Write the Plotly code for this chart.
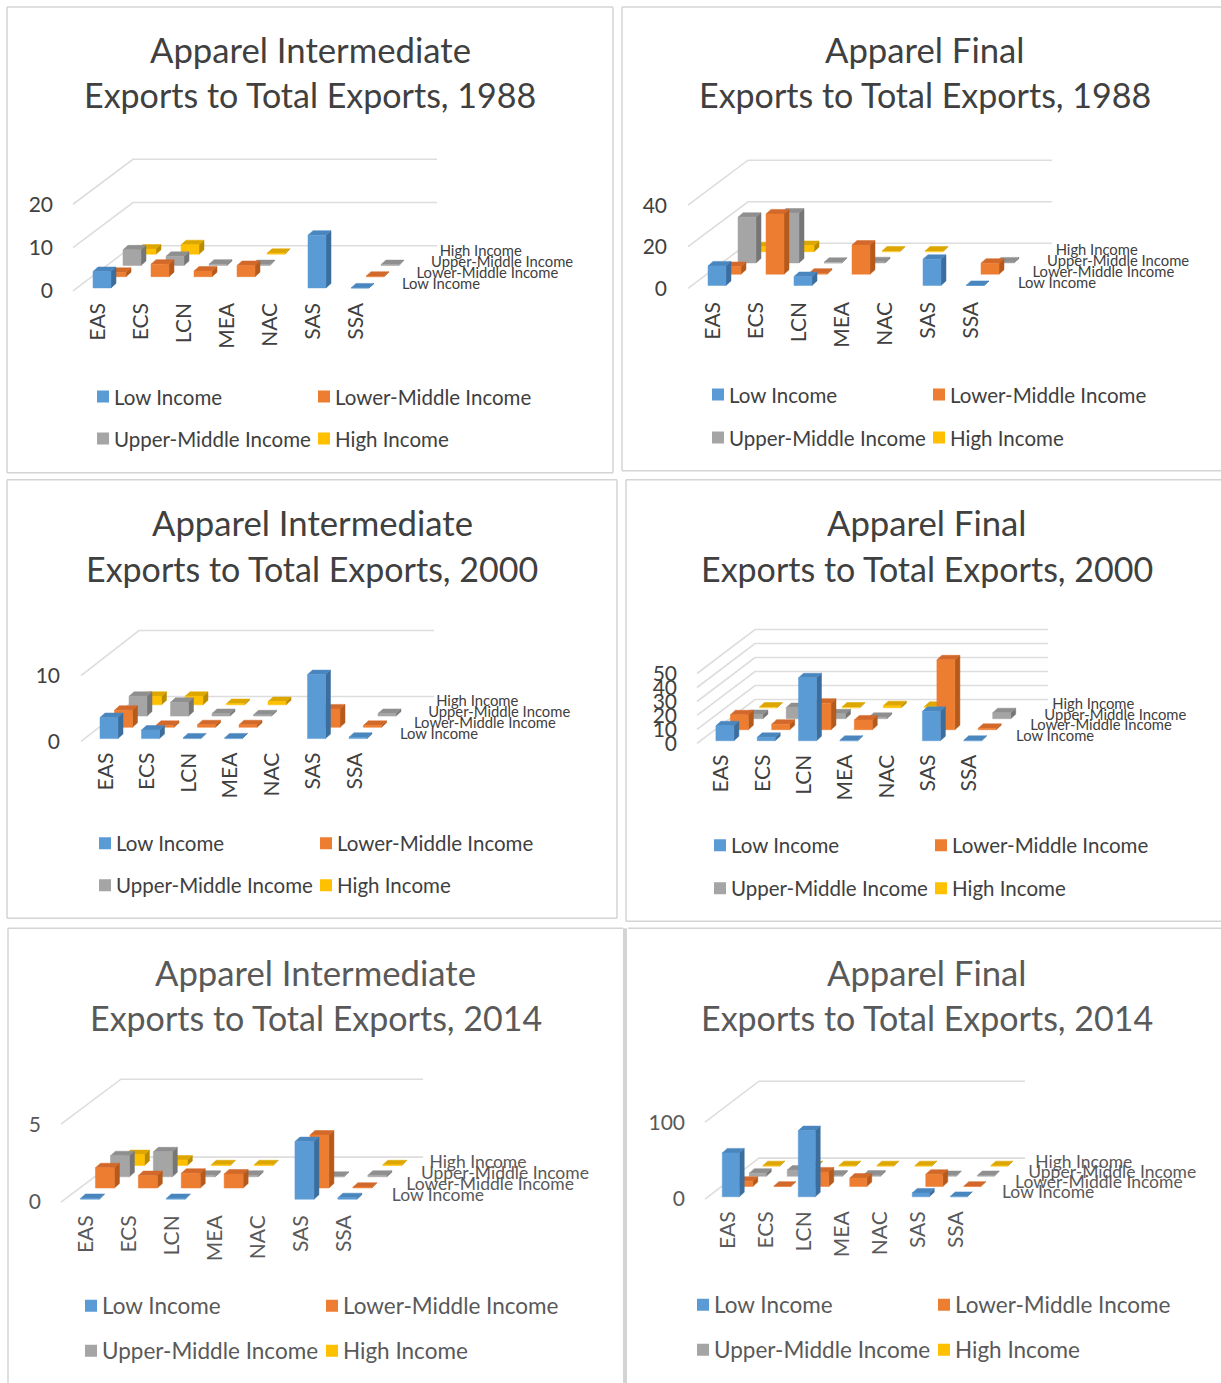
import plotly.graph_objects as go

W, H = 1221, 1383
VH = 1379  # vertical extent the page's pixel positions are mapped onto
CATEGORIES = ["EAS", "ECS", "LCN", "MEA", "NAC", "SAS", "SSA"]
SERIES = ["Low Income", "Lower-Middle Income", "Upper-Middle Income", "High Income"]
_ = None

# Values; None = no bar drawn
INT88_LOW = [3.8, _, _, _, _, 12.2, 0.0]
INT88_LOWER = [1.0, 2.9, 1.3, 2.6, _, _, 0.1]
INT88_UPPER = [3.6, 2.1, 0.3, 0.2, _, _, 0.2]
INT88_HIGH = [1.2, 2.2, _, 0.2, _, _, _]

FIN88_LOW = [9.4, _, 4.3, _, _, 12.6, 0.0]
FIN88_LOWER = [3.7, 29.0, 0.5, 14.0, _, _, 5.3]
FIN88_UPPER = [22.0, 24.0, 0.3, 0.6, _, _, 0.5]
FIN88_HIGH = [2.4, 3.0, _, 0.3, 0.3, _, _]

INT00_LOW = [3.2, 1.3, 0.1, 0.1, _, 9.7, 0.2]
INT00_LOWER = [2.6, 0.3, 0.4, 0.4, _, 2.8, 0.3]
INT00_UPPER = [3.0, 2.1, 0.4, 0.2, _, _, 0.4]
INT00_HIGH = [1.3, 1.3, 0.2, 0.5, _, _, _]

FIN00_LOW = [10.7, 2.4, 45.0, 0.3, _, 21.0, 0.3]
FIN00_LOWER = [10.7, 4.0, 19.0, 7.0, _, 50.0, 1.0]
FIN00_UPPER = [3.0, 8.0, 3.5, 1.0, _, _, 4.3]
FIN00_HIGH = [0.5, _, 0.5, 1.5, 1.0, _, _]

INT14_LOW = [0.05, _, 0.05, _, _, 3.7, 0.1]
INT14_LOWER = [1.3, 0.8, 0.95, 0.9, _, 3.4, 0.05]
INT14_UPPER = [1.35, 1.6, 0.1, 0.1, _, 0.03, 0.1]
INT14_HIGH = [0.7, 0.35, 0.05, 0.05, _, _, 0.05]

FIN14_LOW = [57.0, _, 86.0, _, _, 5.0, 0.5]
FIN14_LOWER = [7.0, 0.5, 19.0, 11.0, _, 16.0, 0.5]
FIN14_UPPER = [4.0, 8.0, 1.5, 1.5, _, 1.0, 1.0]
FIN14_HIGH = [0.5, 0.5, 0.5, 0.5, 0.5, _, 0.5]

TICKS_INT88 = [0, 10, 20]
TICKS_FIN88 = [0, 20, 40]
TICKS_INT00 = [0, 10]
TICKS_FIN00 = [0, 10, 20, 30, 40, 50]
TICKS_INT14 = [0, 5]
TICKS_FIN14 = [0, 100]

FACE = ["#5B9BD5", "#ED7D31", "#A5A5A5", "#FFC000"]
TOP = ["#4A86BE", "#D2692A", "#8F8F8F", "#DDA700"]
SIDE = ["#3B6E9E", "#B65A1C", "#767676", "#B98C00"]
GRID = "#DDDDDD"
TEXT = "#404040"
FONT = "Lato"

PANELS = [
    dict(title=("Apparel Intermediate", "Exports to Total Exports, 1988"), cx=310, ty=(50, 95),
         data=(INT88_LOW, INT88_LOWER, INT88_UPPER, INT88_HIGH), ticks=TICKS_INT88,
         x0=73, y0=291, c=43, s=4.33, back=(60, 45), right=437, left=54, bottom=298, bw=18, lab=28, labsize=14.8,
         leg=(114, 335, 397, 439), legsize=20.5, labdy=5, color=TEXT),
    dict(title=("Apparel Final", "Exports to Total Exports, 1988"), cx=925, ty=(50, 95),
         data=(FIN88_LOW, FIN88_LOWER, FIN88_UPPER, FIN88_HIGH), ticks=TICKS_FIN88,
         x0=688, y0=288.5, c=43, s=2.08, back=(60, 45), right=1052, left=668, bottom=297, bw=18, lab=29, labsize=14.8,
         leg=(729, 950, 395, 438), legsize=20.5, labdy=4, color=TEXT),
    dict(title=("Apparel Intermediate", "Exports to Total Exports, 2000"), cx=312, ty=(523, 569),
         data=(INT00_LOW, INT00_LOWER, INT00_UPPER, INT00_HIGH), ticks=TICKS_INT00,
         x0=81, y0=742, c=41.5, s=6.6, back=(58, 45), right=434, left=61, bottom=748, bw=18, lab=28.5, labsize=14.8,
         leg=(116, 337, 844, 886), legsize=20.5, labdy=6, color=TEXT),
    dict(title=("Apparel Final", "Exports to Total Exports, 2000"), cx=927, ty=(523, 569),
         data=(FIN00_LOW, FIN00_LOWER, FIN00_UPPER, FIN00_HIGH), ticks=TICKS_FIN00,
         x0=697, y0=744, c=41.3, s=1.4, back=(58, 44), right=1048, left=678, bottom=750, bw=18, lab=30, labsize=14.8,
         leg=(731, 952, 846, 889), legsize=20.5, labdy=6, color=TEXT),
    dict(title=("Apparel Intermediate", "Exports to Total Exports, 2014"), cx=316, ty=(973, 1018),
         data=(INT14_LOW, INT14_LOWER, INT14_UPPER, INT14_HIGH), ticks=TICKS_INT14,
         x0=61, y0=1203, c=42.9, s=15.6, back=(60, 45), right=423, left=42, bottom=1211, bw=19, lab=30.5, labsize=17.5,
         leg=(102, 343, 1307, 1352), legsize=22.5, labdy=5, color="#595959"),
    dict(title=("Apparel Final", "Exports to Total Exports, 2014"), cx=927, ty=(973, 1018),
         data=(FIN14_LOW, FIN14_LOWER, FIN14_UPPER, FIN14_HIGH), ticks=TICKS_FIN14,
         x0=705, y0=1200, c=38, s=0.77, back=(54, 41), right=1025, left=686, bottom=1207, bw=17, lab=31, labsize=17.5,
         leg=(714, 955, 1306, 1351), legsize=22.5, labdy=5, color="#595959"),
]

BOXES = [
    [(7, 7, 613, 7), (613, 7, 613, 473), (613, 473, 7, 473), (7, 473, 7, 7)],
    [(622, 7, 1221, 7), (622, 7, 622, 471), (622, 471, 1221, 471)],
    [(7, 480, 617, 480), (617, 480, 617, 919), (617, 919, 7, 919), (7, 919, 7, 480)],
    [(626, 480, 1221, 480), (626, 480, 626, 922), (626, 922, 1221, 922)],
    [(8, 929, 623, 929), (8, 929, 8, 1390)],
    [(628, 929, 1221, 929)],
]

fig = go.Figure()
layout = {}
shapes = []
annotations = []
legend_no = 0

for n, p in enumerate(PANELS, start=1):
    sfx = "" if n == 1 else str(n)
    xa, ya = "x" + sfx, "y" + sfx
    x0, y0, c, s = p["x0"], p["y0"], p["c"], p["s"]
    back_dx, back_dy = p["back"]
    rdx, rdy = back_dx / 4, back_dy / 4
    top_px = y0 - back_dy - s * max(p["ticks"]) - 12
    top_px = min(top_px, y0 - 150)
    rx = p["right"] + 160

    to_cat = lambda px, x0=x0, c=c: (px - x0) / c - 0.5
    to_val = lambda py, y0=y0, s=s: (y0 - py) / s

    layout["xaxis" + sfx] = dict(
        domain=[p["left"] / W, min(rx, W) / W], range=[to_cat(p["left"]), to_cat(min(rx, W))], anchor=ya,
        tickvals=[i + 4 / c for i in range(len(CATEGORIES))], ticktext=CATEGORIES, tickangle=-90,
        showgrid=False, zeroline=False, showline=False, ticks="",
        tickfont=dict(family=FONT, size=21, color=p["color"]), fixedrange=True)
    layout["yaxis" + sfx] = dict(
        domain=[1 - p["bottom"] / VH, 1 - top_px / VH], range=[to_val(p["bottom"]), to_val(top_px)], anchor=xa,
        tickvals=p["ticks"], ticktext=[str(t) for t in p["ticks"]],
        showgrid=False, zeroline=False, showline=False, ticks="",
        tickfont=dict(family=FONT, size=21, color=p["color"]), fixedrange=True)

    # walls: each gridline runs front-left -> back-left -> back-right
    gx, gy = [], []
    for t in p["ticks"]:
        gx += [to_cat(x0), to_cat(x0 + back_dx), to_cat(p["right"]), None]
        gy += [t, t + back_dy / s, t + back_dy / s, None]
    fig.add_trace(go.Scatter(x=gx, y=gy, xaxis=xa, yaxis=ya, mode="lines", line=dict(color=GRID, width=1.6),
                             hoverinfo="skip", showlegend=False))

    bw_c = p["bw"] / c
    side_dx, side_dy = 5 / c, 4.5 / s
    for r in (3, 2, 1, 0):
        group = f"p{n}-{SERIES[r]}"
        fx, fy, tx, ty, sx, sy = [], [], [], [], [], []
        for i, v in enumerate(p["data"][r]):
            if v is None:
                continue
            xl = i + (r + 0.5) * rdx / c - bw_c / 2
            xr = xl + bw_c
            base = (r + 0.5) * rdy / s - 2.75 / s
            topv = base + v
            fx += [xl, xr, xr, xl, xl, None]
            fy += [base, base, topv, topv, base, None]
            tx += [xl, xr, xr + side_dx, xl + side_dx, xl, None]
            ty += [topv, topv, topv + side_dy, topv + side_dy, topv, None]
            sx += [xr, xr + side_dx, xr + side_dx, xr, xr, None]
            sy += [base, base + side_dy, topv + side_dy, topv, base, None]
        for px_, py_, col in ((sx, sy, SIDE[r]), (tx, ty, TOP[r]), (fx, fy, FACE[r])):
            fig.add_trace(go.Scatter(x=px_, y=py_, xaxis=xa, yaxis=ya, mode="lines", fill="toself",
                                     fillcolor=col, line=dict(color=col, width=0.5), legendgroup=group,
                                     hoverinfo="skip", showlegend=False))

    # depth-axis labels
    lab_x0 = x0 + 7 * c + p["lab"]
    nudge = [0, 0, 0, -6]
    lx = [to_cat(lab_x0 + r * rdx * 0.97 + nudge[r]) for r in range(4)]
    ly = [to_val(y0 - p["labdy"] - r * rdy * 0.98) for r in range(4)]
    fig.add_trace(go.Scatter(x=lx, y=ly, xaxis=xa, yaxis=ya, mode="text", text=SERIES, textposition="middle right",
                             textfont=dict(family=FONT, size=p["labsize"], color=p["color"]),
                             cliponaxis=False, hoverinfo="skip", showlegend=False))

    # one legend per entry: entries sit on a wide 2x2 grid
    tx1, tx2, ly1, ly2 = p["leg"]
    spots = [(tx1, ly1), (tx2, ly1), (tx1, ly2), (tx2, ly2)]
    for r, (lpx, lpy) in enumerate(spots):
        legend_no += 1
        key = "legend" if legend_no == 1 else f"legend{legend_no}"
        layout[key] = dict(x=(lpx - 40) / W, y=1 - lpy / VH, xanchor="left", yanchor="middle",
                           bgcolor="rgba(0,0,0,0)", borderwidth=0, itemsizing="trace",
                           font=dict(family=FONT, size=p["legsize"], color=p["color"]))
        fig.add_trace(go.Scatter(x=[None], y=[None], xaxis=xa, yaxis=ya, mode="markers", name=SERIES[r],
                                 marker=dict(symbol="square", size=12, color=FACE[r], angle=90, standoff=9),
                                 legend=key, legendgroup=f"p{n}-{SERIES[r]}", showlegend=True))

    for line, ty_, fs in zip(p["title"], p["ty"], (34.7, 34)):
        annotations.append(dict(text=line, x=p["cx"] / W, y=1 - ty_ / VH, xref="paper", yref="paper",
                                xanchor="center", yanchor="middle", showarrow=False,
                                font=dict(family=FONT, size=fs, color=p["color"])))

for box in BOXES:
    for (a, b, c_, d) in box:
        shapes.append(dict(type="line", xref="paper", yref="paper", x0=a / W, x1=c_ / W, y0=1 - b / VH, y1=1 - d / VH,
                           line=dict(color="#D4D4D4", width=1.5)))
shapes.append(dict(type="line", xref="paper", yref="paper", x0=625 / W, x1=625 / W, y0=1 - 929 / VH, y1=1 - 1390 / VH,
                   line=dict(color="#D4D4D4", width=4)))

fig.update_layout(width=W, height=H, margin=dict(l=0, r=0, t=0, b=0), paper_bgcolor="white", plot_bgcolor="rgba(0,0,0,0)",
                  shapes=shapes, annotations=annotations, **layout)
fig.write_html("out.html", config={"displayModeBar": False},
               post_script="document.documentElement.style.cssText='height:1383px;overflow:hidden;margin:0';"
                           "document.body.style.cssText='height:1383px;overflow:hidden;margin:0';")
